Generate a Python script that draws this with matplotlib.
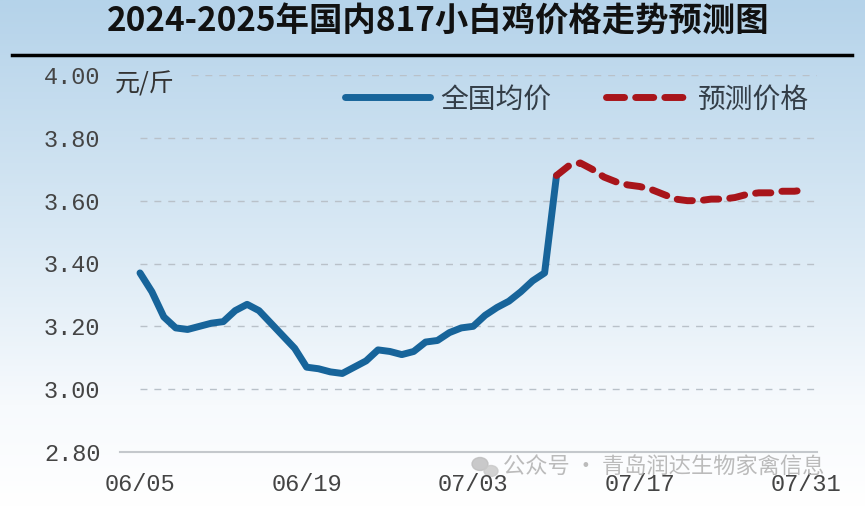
import numpy as np
import matplotlib
matplotlib.use("Agg")
import matplotlib.pyplot as plt
from matplotlib.colors import LinearSegmentedColormap
from matplotlib.patches import Ellipse

plt.rcParams['font.family'] = ['Noto Sans CJK SC', 'DejaVu Sans']

# données : jours depuis le 06/05
jours_reel = list(range(0, 36))
prix_reel = [3.37, 3.31, 3.23, 3.195, 3.19, 3.20, 3.21, 3.215, 3.25, 3.27,
             3.25, 3.21, 3.17, 3.13, 3.07, 3.065, 3.055, 3.05, 3.07, 3.09,
             3.125, 3.12, 3.11, 3.12, 3.15, 3.155, 3.18, 3.195, 3.20, 3.235,
             3.26, 3.28, 3.31, 3.345, 3.37, 3.68]
jours_prev = list(range(35, 57))
prix_prev = [3.68, 3.71, 3.72, 3.70, 3.675, 3.66, 3.65, 3.645, 3.635, 3.62,
             3.605, 3.60, 3.60, 3.605, 3.605, 3.61, 3.62, 3.625, 3.625, 3.63,
             3.63, 3.635]
pos_ticks = [0, 14, 28, 42, 56]
labels_x = ["06/05", "06/19", "07/03", "07/17", "07/31"]
valeurs_y = [2.80, 3.00, 3.20, 3.40, 3.60, 3.80, 4.00]

W, H = 865, 507
fig = plt.figure(figsize=(W / 100, H / 100), dpi=100)

# fond dégradé bleu -> blanc
fond = fig.add_axes([0, 0, 1, 1], zorder=-10)
cmap = LinearSegmentedColormap.from_list(
    "fond", [(0.0, "#b5d3ea"), (0.45, "#d8e8f4"), (0.8, "#f7fafd"), (1.0, "#ffffff")])
fond.imshow(np.linspace(0, 1, 256)[:, None], aspect="auto", cmap=cmap,
            extent=[0, 1, 0, 1], origin="upper")
fond.set_xlim(0, 1)
fond.set_ylim(0, 1)
fond.axis("off")

# titre + trait noir
fig.text(438 / W, 1 - 22 / H, "2024-2025年国内817小白鸡价格走势预测图",
         ha="center", va="center", fontsize=24, fontweight="bold", color="#111111")
fond.plot([12 / W, 852 / W], [1 - 55 / H, 1 - 55 / H], color="black", lw=2.5)

# zone de tracé
x0, x1 = 120, 817
ax = fig.add_axes([x0 / W, 1 - 452 / H, (x1 - x0) / W, (452 - 75) / H])
ax.patch.set_alpha(0)
px_jour = 11.9
ax.set_xlim(-(140 - x0) / px_jour, (x1 - 140) / px_jour)
ax.set_ylim(2.80, 4.00)
for s in ["top", "right", "left"]:
    ax.spines[s].set_visible(False)
ax.spines["bottom"].set_color("#c4c8cc")
ax.spines["bottom"].set_linewidth(1.5)
ax.spines["bottom"].set_zorder(1)

# grille en pointillés
for v in valeurs_y[1:]:
    debut = 4.3 if v == 4.00 else 0
    ax.plot([debut, ax.get_xlim()[1]], [v, v], color="#b9c1c9", lw=1.0,
            dashes=(5, 5), zorder=1)

ax.plot(jours_reel, prix_reel, color="#17649a", lw=5, solid_capstyle="round",
        solid_joinstyle="round", zorder=3)
ax.plot(jours_prev, prix_prev, color="#a8151b", lw=5, dashes=(2.2, 1.6),
        dash_capstyle="round", zorder=4)

ax.set_xticks(pos_ticks)
ax.set_xticklabels(labels_x, family="Liberation Mono", fontsize=17, color="#444444")
ax.set_yticks(valeurs_y)
ax.set_yticklabels(["%.2f" % v for v in valeurs_y], family="Liberation Mono",
                   fontsize=17, color="#444444")
ax.tick_params(length=0, axis="y", pad=14)
ax.tick_params(length=0, axis="x", pad=15)

# unité
fig.text(115 / W, 1 - 84 / H, "元/斤", ha="left", va="center", fontsize=18,
         color="#333333")

# légende manuelle
fond.plot([345 / W, 430 / W], [1 - 97 / H] * 2, color="#17649a", lw=5,
          solid_capstyle="round")
fig.text(440 / W, 1 - 100 / H, "全国均价", ha="left", va="center", fontsize=20,
         color="#333d47")
fond.plot([606 / W, 683 / W], [1 - 97 / H] * 2, color="#a8151b", lw=5,
          dashes=(2.6, 1.6), dash_capstyle="round")
fig.text(698 / W, 1 - 100 / H, "预测价格", ha="left", va="center", fontsize=20,
         color="#333d47")

# filigrane (icône + texte)
fond.add_patch(Ellipse((480 / W, 1 - 464 / H), 16 / W, 13 / H, color="#bdbdbd", alpha=0.8))
fond.add_patch(Ellipse((491 / W, 1 - 471 / H), 14 / W, 11 / H, color="#c8c8c8", alpha=0.8))
fig.text(503 / W, 1 - 466 / H, "公众号 · 青岛润达生物家禽信息", ha="left", va="center",
         fontsize=16, color="#b4b4b4", alpha=0.9)

fig.savefig("out.png", dpi=100)
